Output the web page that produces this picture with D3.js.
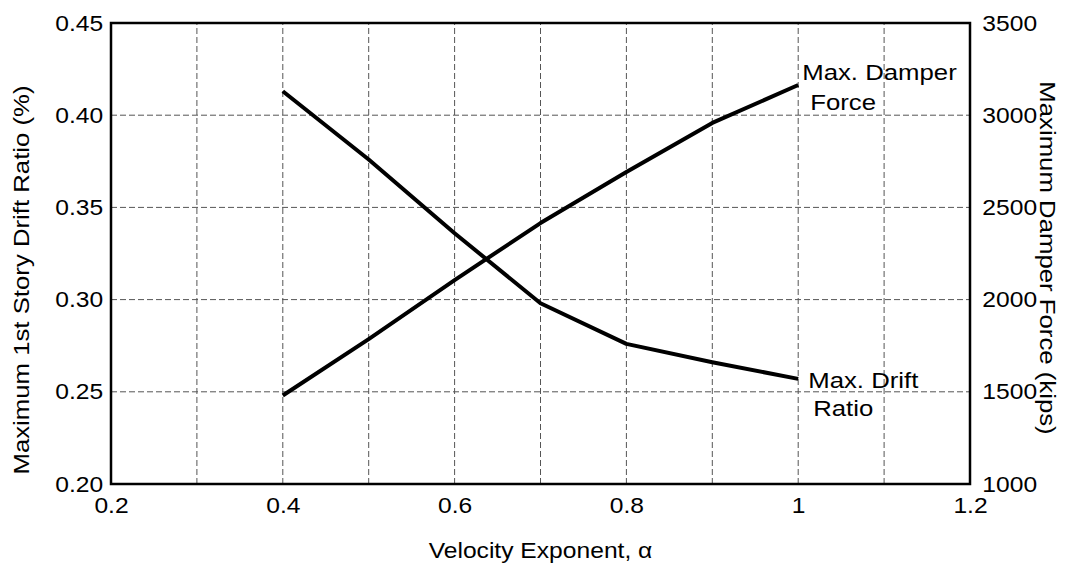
<!DOCTYPE html>
<html>
<head>
<meta charset="utf-8">
<script src="https://cdn.jsdelivr.net/npm/d3@7"></script>
<style>
  body { margin: 0; background: #fff; }
  svg { font-family: "Liberation Sans", Arial, sans-serif; }
</style>
</head>
<body>
<div id="chart"></div>
<script>
// values
alphaValues = [0.4, 0.5, 0.6, 0.7, 0.8, 0.9, 1.0]
driftRatio = [0.413, 0.376, 0.336, 0.298, 0.276, 0.266, 0.257]
damperForce = [1480, 1786, 2106, 2415, 2692, 2958, 3164]
xTicks = [0.2, 0.4, 0.6, 0.8, 1.0, 1.2]
xGrid = [0.3, 0.4, 0.5, 0.6, 0.7, 0.8, 0.9, 1.0, 1.1]
leftTicks = [0.20, 0.25, 0.30, 0.35, 0.40, 0.45]
rightTicks = [1000, 1500, 2000, 2500, 3000, 3500]

const width = 1077;
const height = 566;
const margins = { top: 23, right: 107, bottom: 82, left: 111 };
const stretch = 1.12; // the reference lettering is a bit wider than Arial

const svg = d3.select("#chart")
    .append("svg")
    .attr("width", width)
    .attr("height", height);

const x = d3.scaleLinear()
    .domain([0.2, 1.2])
    .range([margins.left, width - margins.right]);
const yL = d3.scaleLinear()
    .domain([0.20, 0.45])
    .range([height - margins.bottom, margins.top]);
const yR = d3.scaleLinear()
    .domain([1000, 3500])
    .range([height - margins.bottom, margins.top]);

// grid
const grid = svg.append("g")
    .attr("stroke", "#555")
    .attr("stroke-width", 1)
    .attr("stroke-dasharray", "6,3");
grid.selectAll(".vg")
    .data(xGrid)
    .join("line")
    .attr("x1", d => x(d)).attr("x2", d => x(d))
    .attr("y1", yL(0.20)).attr("y2", yL(0.45));
grid.selectAll(".hg")
    .data(leftTicks.slice(1, -1))
    .join("line")
    .attr("class", "hg")
    .attr("x1", x(0.2)).attr("x2", x(1.2))
    .attr("y1", d => yL(d)).attr("y2", d => yL(d));

// axes
const fmt2 = d3.format(".2f");
const fmtX = d => d === 1 ? "1" : d3.format(".1f")(d);

svg.append("g")
    .attr("transform", `translate(0,${height - margins.bottom})`)
    .call(d3.axisBottom(x).tickValues(xTicks).tickFormat(fmtX).tickSize(0).tickPadding(13))
    .call(g => g.select(".domain").remove())
    .selectAll("text")
    .attr("font-size", 22)
    .attr("fill", "#000")
    .attr("transform", `scale(${stretch},1)`);

svg.append("g")
    .attr("transform", `translate(${margins.left},0)`)
    .call(d3.axisLeft(yL).tickValues(leftTicks).tickFormat(fmt2).tickSize(0).tickPadding(7))
    .call(g => g.select(".domain").remove())
    .selectAll("text")
    .attr("font-size", 22)
    .attr("fill", "#000")
    .attr("transform", `scale(${stretch},1)`);

svg.append("g")
    .attr("transform", `translate(${width - margins.right},0)`)
    .call(d3.axisRight(yR).tickValues(rightTicks).tickFormat(d3.format("d")).tickSize(0).tickPadding(11))
    .call(g => g.select(".domain").remove())
    .selectAll("text")
    .attr("font-size", 22)
    .attr("fill", "#000")
    .attr("transform", `scale(${stretch},1)`);

// frame
svg.append("rect")
    .attr("x", x(0.2))
    .attr("y", yL(0.45))
    .attr("width", x(1.2) - x(0.2))
    .attr("height", yL(0.20) - yL(0.45))
    .attr("fill", "none")
    .attr("stroke", "#000")
    .attr("stroke-width", 2.5);

// lines
const driftLine = d3.line()
    .x((d, i) => x(alphaValues[i]))
    .y(d => yL(d));
const forceLine = d3.line()
    .x((d, i) => x(alphaValues[i]))
    .y(d => yR(d));

svg.append("path")
    .attr("d", driftLine(driftRatio))
    .attr("fill", "none")
    .attr("stroke", "#000")
    .attr("stroke-width", 4)
    .attr("stroke-linejoin", "round");
svg.append("path")
    .attr("d", forceLine(damperForce))
    .attr("fill", "none")
    .attr("stroke", "#000")
    .attr("stroke-width", 4)
    .attr("stroke-linejoin", "round");

// line labels
const lastF = damperForce[damperForce.length - 1];
const lastD = driftRatio[driftRatio.length - 1];
const lastA = alphaValues[alphaValues.length - 1];
const label = (px, py, txt) => svg.append("text")
    .attr("transform", `translate(${px},${py}) scale(${stretch},1)`)
    .attr("font-size", 23)
    .attr("fill", "#000")
    .text(txt);
label(x(lastA) + 4, yR(lastF) - 5, "Max. Damper");
label(x(lastA) + 12, yR(lastF) + 25, "Force");
label(x(lastA) + 10, yL(lastD) + 9, "Max. Drift");
label(x(lastA) + 15, yL(lastD) + 37, "Ratio");

// axis titles
svg.append("text")
    .attr("transform", `translate(${(x(0.2) + x(1.2)) / 2},558) scale(${stretch},1)`)
    .attr("text-anchor", "middle")
    .attr("font-size", 22)
    .text("Velocity Exponent,  α");

svg.append("text")
    .attr("transform", `translate(29,280) rotate(-90) scale(${stretch},1)`)
    .attr("text-anchor", "middle")
    .attr("font-size", 23)
    .text("Maximum 1st Story Drift Ratio (%)");

svg.append("text")
    .attr("transform", `translate(1040,258) rotate(90) scale(${stretch},1)`)
    .attr("text-anchor", "middle")
    .attr("font-size", 23)
    .text("Maximum Damper Force (kips)");
</script>
</body>
</html>
